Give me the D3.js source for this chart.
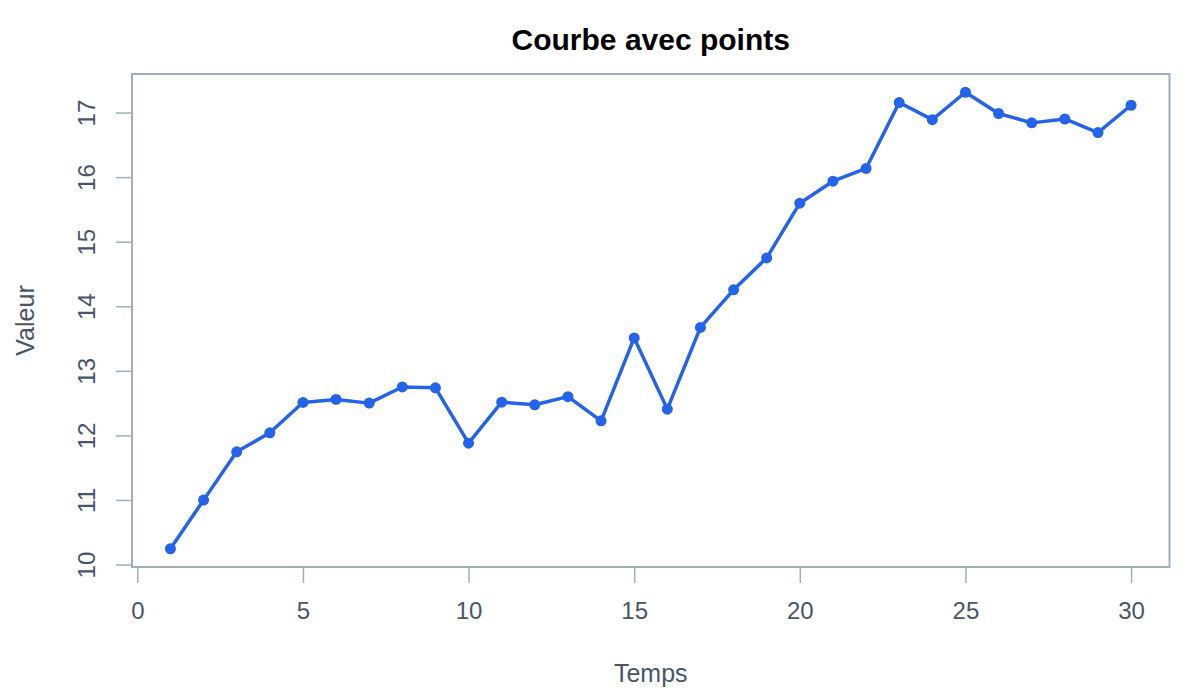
<!DOCTYPE html>
<html>
<head>
<meta charset="utf-8">
<script src="https://cdn.jsdelivr.net/npm/d3@7"></script>
<style>
  html, body { margin: 0; padding: 0; background: #ffffff; }
  svg { display: block; font-family: "Liberation Sans", Arial, Helvetica, sans-serif; }
</style>
</head>
<body>
<svg id="chart" width="1200" height="700"></svg>
<script>
// ---- data ----
const temps = [1,2,3,4,5,6,7,8,9,10,11,12,13,14,15,16,17,18,19,20,21,22,23,24,25,26,27,28,29,30];
const valeurs = [10.245, 10.998, 11.746, 12.04, 12.51, 12.557, 12.50, 12.75, 12.737, 11.88,
                 12.515, 12.474, 12.60, 12.226, 13.51, 12.407, 13.672, 14.254, 14.749, 15.596,
                 15.937, 16.134, 17.155, 16.89, 17.314, 16.985, 16.84, 16.90, 16.69, 17.113];
const xTicks = [0, 5, 10, 15, 20, 25, 30];
const yTicks = [10, 11, 12, 13, 14, 15, 16, 17];
const titleText = "Courbe avec points";
const xLabel = "Temps";
const yLabel = "Valeur";

// ---- layout ----
const pLeft = 132, pRight = 1169.5, pTop = 74, pBottom = 567;
const svg = d3.select("#chart");

// R-style 4% extension of data range
const xExt = d3.extent(temps), yExt = d3.extent(valeurs);
const xPad = (xExt[1] - xExt[0]) * 0.04, yPad = (yExt[1] - yExt[0]) * 0.04;
const x = d3.scaleLinear().domain([xExt[0] - xPad, xExt[1] + xPad]).range([pLeft, pRight]);
const y = d3.scaleLinear().domain([yExt[0] - yPad, yExt[1] + yPad]).range([pBottom, pTop]);

const axisColor = "#a0aec0";
const textColor = "#4a5568";
const fontFam = "'Liberation Sans', Arial, Helvetica, sans-serif";

// box
svg.append("rect")
  .attr("x", pLeft).attr("y", pTop)
  .attr("width", pRight - pLeft).attr("height", pBottom - pTop)
  .attr("fill", "none").attr("stroke", axisColor).attr("stroke-width", 2);

// x axis
const xAxis = svg.append("g")
  .attr("transform", `translate(0,${pBottom + 1})`)
  .call(d3.axisBottom(x).tickValues(xTicks).tickSize(15).tickPadding(19).tickFormat(d3.format("d")));
xAxis.select(".domain").remove();
xAxis.selectAll(".tick line").attr("stroke", axisColor).attr("stroke-width", 1.5);
xAxis.selectAll(".tick text").attr("fill", textColor).style("font-size", "24px")
  .style("font-family", fontFam);

// y axis
const yAxis = svg.append("g")
  .attr("transform", `translate(${pLeft},0)`)
  .call(d3.axisLeft(y).tickValues(yTicks).tickSize(16).tickFormat(d3.format("d")));
yAxis.select(".domain").remove();
yAxis.selectAll(".tick line").attr("stroke", axisColor).attr("stroke-width", 1.5);
yAxis.selectAll(".tick text")
  .attr("fill", textColor).style("font-size", "24px")
  .style("font-family", fontFam)
  .attr("x", null).attr("dy", null)
  .attr("text-anchor", "middle")
  .attr("transform", "translate(-37,0) rotate(-90)");

// line
const data = temps.map((t, i) => ({ t, v: valeurs[i] }));
svg.append("path")
  .datum(data)
  .attr("fill", "none")
  .attr("stroke", "#2563eb")
  .attr("stroke-width", 3.5)
  .attr("stroke-linejoin", "round")
  .attr("d", d3.line().x(d => x(d.t)).y(d => y(d.v)));

svg.append("g").selectAll("circle")
  .data(data).join("circle")
  .attr("cx", d => x(d.t)).attr("cy", d => y(d.v))
  .attr("r", 5.5).attr("fill", "#2563eb");

// title
svg.append("text")
  .attr("x", (pLeft + pRight) / 2).attr("y", 49.5)
  .attr("text-anchor", "middle")
  .style("font-size", "30px").style("font-weight", "bold").attr("fill", "#000")
  .text(titleText);

// axis labels
svg.append("text")
  .attr("x", (pLeft + pRight) / 2).attr("y", 682)
  .attr("text-anchor", "middle")
  .style("font-size", "25px").attr("fill", textColor)
  .text(xLabel);

svg.append("text")
  .attr("transform", `translate(34,${(pTop + pBottom) / 2}) rotate(-90)`)
  .attr("text-anchor", "middle")
  .style("font-size", "25px").attr("fill", textColor)
  .text(yLabel);
</script>
</body>
</html>
